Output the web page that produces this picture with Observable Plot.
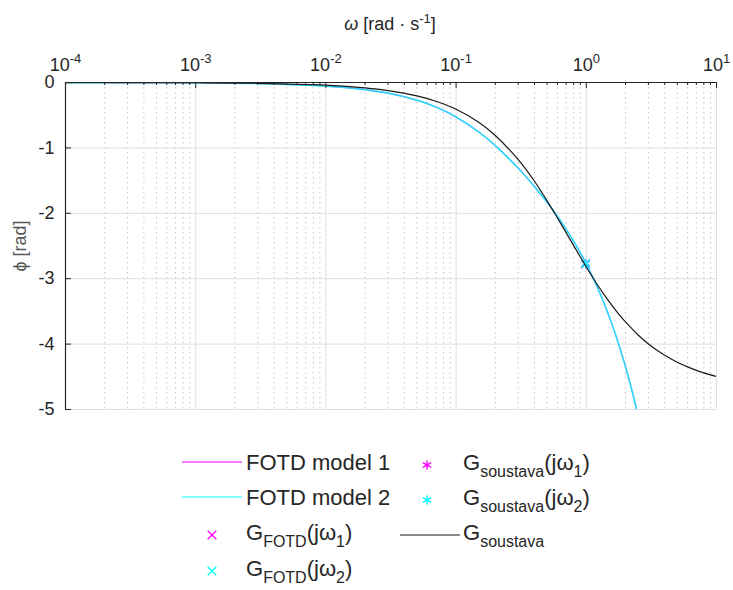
<!DOCTYPE html>
<html>
<head>
<meta charset="utf-8">
<script src="https://cdn.jsdelivr.net/npm/d3@7"></script>
<script src="https://cdn.jsdelivr.net/npm/@observablehq/plot@0.6"></script>
<style>
  body { margin: 0; background: #fff; }
  #chart { position: relative; width: 733px; height: 590px; }
  #chart svg { display: block; }
</style>
</head>
<body>
<div id="chart"></div>
<script>
// Frequencies [rad/s] and phases [rad] of the two FOTD approximations
const omegaModel = [1e-4, 3e-4, 1e-3, 3e-3, 0.01, 0.02, 0.03, 0.05, 0.07, 0.1, 0.15, 0.2, 0.3, 0.4, 0.5, 0.6, 0.7, 0.8, 0.9, 1.0, 1.2, 1.4, 1.6, 1.8, 2.0, 2.2, 2.4, 2.5];
const phaseModel1 = [-0.0005, -0.0016, -0.0055, -0.0163, -0.055, -0.109, -0.163, -0.270, -0.375, -0.526, -0.758, -0.965, -1.311, -1.592, -1.832, -2.046, -2.243, -2.428, -2.605, -2.776, -3.105, -3.424, -3.736, -4.043, -4.346, -4.648, -4.947, -5.096];
const phaseModel2 = [-0.0005, -0.0016, -0.0055, -0.0163, -0.055, -0.109, -0.163, -0.270, -0.375, -0.526, -0.758, -0.965, -1.311, -1.592, -1.832, -2.046, -2.243, -2.428, -2.605, -2.776, -3.105, -3.424, -3.736, -4.043, -4.346, -4.648, -4.947, -5.096];

// Phase of the plant G_soustava
const omegaPlant = [1e-4, 3e-4, 1e-3, 3e-3, 0.01, 0.02, 0.03, 0.05, 0.07, 0.1, 0.15, 0.2, 0.3, 0.4, 0.5, 0.6, 0.7, 0.8, 0.9, 1.0, 1.2, 1.4, 1.6, 1.8, 2.0, 2.5, 3, 4, 5, 6, 7, 8, 10];
const phasePlant = [-0.0004, -0.0012, -0.0041, -0.0123, -0.041, -0.082, -0.123, -0.205, -0.287, -0.409, -0.610, -0.810, -1.180, -1.510, -1.810, -2.070, -2.295, -2.494, -2.668, -2.821, -3.073, -3.271, -3.428, -3.557, -3.660, -3.860, -3.997, -4.171, -4.277, -4.349, -4.401, -4.439, -4.494];

// Fitting points ω1, ω2
const omegaPoints = [0.99, 0.99];
const phaseFotdPoints = [-2.77, -2.77];
const phasePlantPoints = [-2.77, -2.77];

// Axis ticks
const decadeTicks = [1e-4, 1e-3, 1e-2, 1e-1, 1, 10];
const minorTicks = [];
for (let e = -4; e <= 0; e++) for (let k = 2; k <= 9; k++) minorTicks.push(k * Math.pow(10, e));
const phaseTicks = [0, -1, -2, -3, -4, -5];

const model1 = omegaModel.map((w, i) => ({w, p: phaseModel1[i]}));
const model2 = omegaModel.map((w, i) => ({w, p: phaseModel2[i]}));
const plant = omegaPlant.map((w, i) => ({w, p: phasePlant[i]}));
const pt = (i, arr) => [{w: omegaPoints[i], p: arr[i]}];

const W = 733, H = 590;
const mL = 65, mR = 17, mT = 82, mB = 181;
const innerW = W - mL - mR, innerH = H - mT - mB;
const axisColor = "#262626";
const font = "'Liberation Sans', Arial, Helvetica, sans-serif";
const MAGENTA = "#ff00ff", CYAN = "#00ffff";

const svgPlot = Plot.plot({
  width: W, height: H,
  marginLeft: mL, marginRight: mR, marginTop: mT, marginBottom: mB,
  style: {fontFamily: font, fontSize: "18px", color: axisColor, background: "#fff", overflow: "visible"},
  x: {type: "log", domain: [1e-4, 10]},
  y: {domain: [-5, 0]},
  marks: [
    // grid
    Plot.ruleX(minorTicks, {stroke: "#c4c4c4", strokeWidth: 1, strokeDasharray: "1.5,3.5"}),
    Plot.ruleX(decadeTicks, {stroke: "#dedede", strokeWidth: 1}),
    Plot.ruleY(phaseTicks, {stroke: "#dedede", strokeWidth: 1}),
    // curves
    Plot.line(model1, {x: "w", y: "p", stroke: MAGENTA, strokeWidth: 1.1, curve: "catmull-rom", clip: true}),
    Plot.line(model2, {x: "w", y: "p", stroke: CYAN, strokeOpacity: 0.8, strokeWidth: 1.7, curve: "catmull-rom", clip: true}),
    Plot.dot(pt(0, phaseFotdPoints), {x: "w", y: "p", symbol: "times", stroke: MAGENTA, r: 4, strokeWidth: 1.3}),
    Plot.dot(pt(1, phaseFotdPoints), {x: "w", y: "p", symbol: "times", stroke: CYAN, r: 4, strokeWidth: 1.3}),
    Plot.dot(pt(0, phasePlantPoints), {x: "w", y: "p", symbol: "asterisk", stroke: MAGENTA, r: 4.5, strokeWidth: 1.3}),
    Plot.dot(pt(1, phasePlantPoints), {x: "w", y: "p", symbol: "asterisk", stroke: CYAN, r: 4.5, strokeWidth: 1.3}),
    Plot.line(plant, {x: "w", y: "p", stroke: "#1a1a1a", strokeWidth: 1.2, curve: "catmull-rom", clip: true}),
    // inward ticks
    Plot.ruleX(minorTicks, {stroke: axisColor, insetBottom: innerH - 3}),
    Plot.ruleX(decadeTicks, {stroke: axisColor, insetBottom: innerH - 6}),
    Plot.ruleY(phaseTicks, {stroke: axisColor, insetRight: innerW - 6}),
    // axis lines
    Plot.ruleX([1e-4], {stroke: axisColor, strokeWidth: 1.2}),
    Plot.ruleY([0], {stroke: axisColor, strokeWidth: 1.2}),
    Plot.axisX({anchor: "top", ticks: decadeTicks, tickSize: 0, tickPadding: 12, label: null, fontSize: 18,
      tickFormat: d => `10^${Math.round(Math.log10(d))}`}),
    Plot.axisY({anchor: "left", ticks: phaseTicks, tickSize: 0, tickPadding: 11, label: null, fontSize: 18,
      tickFormat: d => String(d)})
  ]
});

document.getElementById("chart").appendChild(svgPlot);
const svg = d3.select(svgPlot);

// powers of ten with raised exponents
svg.selectAll("g[aria-label='x-axis tick label'] text").each(function() {
  const t = d3.select(this);
  const s = t.text();
  if (!s.includes("^")) return;
  const [base, exp] = s.split("^");
  t.text(null);
  t.append("tspan").text(base);
  t.append("tspan").attr("dy", "-0.55em").attr("font-size", "13px").text(exp);
});

// helper: text with subscripts, parts = [[text, isSub], ...]
function richText(g, x, y, parts, size, subSize) {
  const t = g.append("text").attr("x", x).attr("y", y).attr("text-anchor", "start")
    .attr("font-family", font).attr("font-size", size).attr("fill", axisColor);
  let low = false;
  for (const [s, sub] of parts) {
    const sp = t.append("tspan").text(s);
    if (sub && !low) { sp.attr("dy", 7).attr("font-size", subSize); low = true; }
    else if (sub) { sp.attr("font-size", subSize); }
    else if (!sub && low) { sp.attr("dy", -7); low = false; }
  }
  return t;
}

// axis titles
const title = svg.append("text").attr("x", 390).attr("y", 30).attr("text-anchor", "middle")
  .attr("font-family", font).attr("font-size", 18).attr("fill", axisColor);
title.append("tspan").attr("font-style", "italic").text("ω");
title.append("tspan").text(" [rad · s");
title.append("tspan").attr("dy", -7).attr("font-size", 13).text("-1");
title.append("tspan").attr("dy", 7).text("]");

svg.append("text").attr("transform", "translate(26,246) rotate(-90)").attr("text-anchor", "middle")
  .attr("font-family", font).attr("font-size", 18).attr("fill", "#555")
  .text("ϕ [rad]");

// legend
const lg = svg.append("g");
const rowY = [462, 497, 532, 568];
const capHalf = 8;
const FS = 22, SS = 16;

function legendLine(x1, x2, y, color) {
  lg.append("line").attr("x1", x1).attr("x2", x2).attr("y1", y).attr("y2", y)
    .attr("stroke", color).attr("stroke-width", 1.2);
}
function legendSymbol(x, y, type, color) {
  const sym = type === "times" ? d3.symbolTimes : d3.symbolAsterisk;
  lg.append("path").attr("transform", `translate(${x},${y})`)
    .attr("d", d3.symbol(sym, type === "times" ? 50 : 64)())
    .attr("fill", "none").attr("stroke", color).attr("stroke-width", 1.3);
}

legendLine(182, 242, rowY[0], MAGENTA);
richText(lg, 246, rowY[0] + capHalf, [["FOTD model 1", false]], FS, SS);
legendLine(182, 242, rowY[1], CYAN);
richText(lg, 246, rowY[1] + capHalf, [["FOTD model 2", false]], FS, SS);
legendSymbol(212, rowY[2] + 3, "times", MAGENTA);
richText(lg, 246, rowY[2] + capHalf, [["G", false], ["FOTD", true], ["(jω", false], ["1", true], [")", false]], FS, SS);
legendSymbol(212, rowY[3] + 3, "times", CYAN);
richText(lg, 246, rowY[3] + capHalf, [["G", false], ["FOTD", true], ["(jω", false], ["2", true], [")", false]], FS, SS);

legendSymbol(427, rowY[0] + 3, "asterisk", MAGENTA);
richText(lg, 463, rowY[0] + capHalf, [["G", false], ["soustava", true], ["(jω", false], ["1", true], [")", false]], FS, SS);
legendSymbol(427, rowY[1] + 3, "asterisk", CYAN);
richText(lg, 463, rowY[1] + capHalf, [["G", false], ["soustava", true], ["(jω", false], ["2", true], [")", false]], FS, SS);
legendLine(400, 460, rowY[2] + 3, "#1a1a1a");
richText(lg, 463, rowY[2] + capHalf, [["G", false], ["soustava", true]], FS, SS);
</script>
</body>
</html>
